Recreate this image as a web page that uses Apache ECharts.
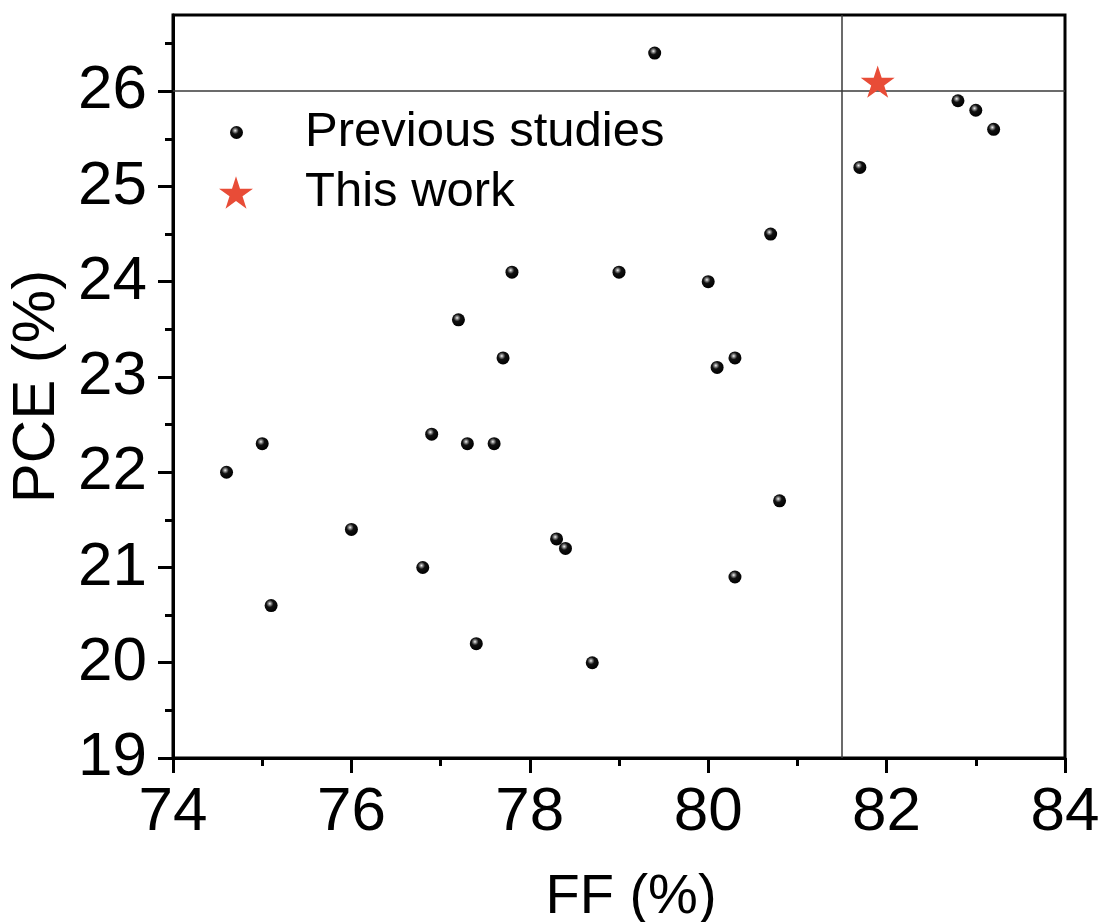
<!DOCTYPE html>
<html>
<head>
<meta charset="utf-8">
<script src="https://cdn.jsdelivr.net/npm/echarts@6/dist/echarts.min.js"></script>
<style>
  html, body { margin: 0; padding: 0; background: #fff; }
  #chart { width: 1102px; height: 922px; }
</style>
</head>
<body>
<div id="chart"></div>
<script>
// previous studies: FF (%) and PCE (%)
const prevFF  = [79.4, 82.8, 83.0, 83.2, 81.7, 80.7, 77.8, 79.0, 80.0, 77.2, 77.7, 80.3, 80.1, 76.9,
                 75.0, 77.3, 77.6, 74.6, 80.8, 76.0, 78.3, 78.4, 76.8, 80.3, 75.1, 77.4, 78.7];
const prevPCE = [26.4, 25.9, 25.8, 25.6, 25.2, 24.5, 24.1, 24.1, 24.0, 23.6, 23.2, 23.2, 23.1, 22.4,
                 22.3, 22.3, 22.3, 22.0, 21.7, 21.4, 21.3, 21.2, 21.0, 20.9, 20.6, 20.2, 20.0];
// this work
const thisFF  = [81.9];
const thisPCE = [26.1];
// reference lines
const refFF = 81.5;
const refPCE = 26;
// y ticks
const yTicks = [19, 20, 21, 22, 23, 24, 25, 26];
const yMinorTicks = [19.5, 20.5, 21.5, 22.5, 23.5, 24.5, 25.5, 26.5];

const FONT = '"Liberation Sans", Arial, sans-serif';
const starPath = 'path://M50 0L61.2 34.5H97.6L68.2 55.9L79.4 90.5L50 69.1L20.6 90.5L31.8 55.9L2.4 34.5H38.8Z';
const ball = {
  type: 'radial', x: 0.4, y: 0.35, r: 0.65,
  colorStops: [
    { offset: 0, color: '#f4f4f4' },
    { offset: 0.18, color: '#888' },
    { offset: 0.42, color: '#111' },
    { offset: 1, color: '#000' }
  ]
};
const tickStyle = { color: '#000', width: 3 };

const chart = echarts.init(document.getElementById('chart'));
chart.setOption({
  animation: false,
  grid: {
    left: 173, right: 37, top: 15, bottom: 164, outerBoundsMode: 'none',
    show: true, borderColor: '#000', borderWidth: 3
  },
  legend: [
    {
      data: ['Previous studies'], left: 230, top: 108, padding: 0,
      itemWidth: 13, itemHeight: 13, selectedMode: false,
      textStyle: { fontSize: 49, fontFamily: FONT, color: '#000', padding: [0, 0, 0, 57] }
    },
    {
      data: ['This work'], left: 219, top: 168, padding: 0,
      itemWidth: 34, itemHeight: 34, selectedMode: false,
      textStyle: { fontSize: 49, fontFamily: FONT, color: '#000', padding: [0, 0, 0, 47] }
    }
  ],
  xAxis: {
    type: 'value', min: 74, max: 84, interval: 2,
    name: 'FF (%)', nameLocation: 'middle', nameGap: 112,
    nameTextStyle: { fontSize: 56, fontFamily: FONT, color: '#000', padding: [0, 0, 0, 24] },
    axisLine: { lineStyle: tickStyle },
    axisTick: { length: 15, lineStyle: tickStyle },
    minorTick: { show: true, splitNumber: 2, length: 8, lineStyle: tickStyle },
    splitLine: { show: false },
    axisLabel: { fontSize: 62, fontFamily: FONT, color: '#000', margin: 24 }
  },
  yAxis: [
    {
      type: 'value', min: 19, max: 26.8, interval: 1, position: 'left',
      name: 'PCE (%)', nameLocation: 'middle', nameGap: 104,
      nameTextStyle: { fontSize: 60, fontFamily: FONT, color: '#000' },
      axisLine: { lineStyle: tickStyle },
      axisTick: { length: 15, lineStyle: tickStyle, customValues: yTicks },
      splitLine: { show: false },
      axisLabel: { fontSize: 62, fontFamily: FONT, color: '#000', margin: 26, customValues: yTicks }
    },
    {
      type: 'value', min: 19, max: 26.8, position: 'left',
      axisLine: { show: false },
      axisTick: { show: true, length: 8, lineStyle: tickStyle, customValues: yMinorTicks },
      axisLabel: { show: false },
      splitLine: { show: false }
    }
  ],
  series: [
    {
      name: 'Previous studies', type: 'scatter', symbol: 'circle', symbolSize: 13,
      itemStyle: { color: ball, opacity: 1 },
      data: prevFF.map((v, i) => [v, prevPCE[i]]),
      markLine: {
        silent: true, symbol: ['none', 'none'], label: { show: false },
        lineStyle: { color: '#3a3a3a', width: 1.5, type: 'solid' },
        data: [{ xAxis: refFF }, { yAxis: refPCE }]
      }
    },
    {
      name: 'This work', type: 'scatter', symbol: starPath, symbolSize: 34, symbolKeepAspect: true,
      itemStyle: { color: '#e84c37', opacity: 1 },
      data: thisFF.map((v, i) => [v, thisPCE[i]]),
      z: 5
    }
  ]
});
</script>
</body>
</html>
